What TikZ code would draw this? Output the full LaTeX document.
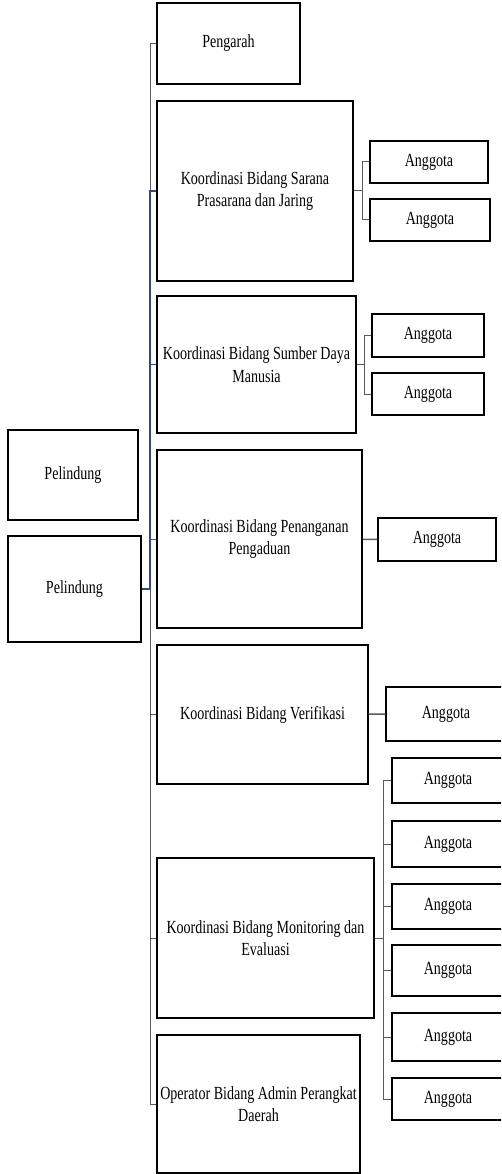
\documentclass[tikz,border=0pt]{standalone}
\usepackage{fontspec}
\setmainfont[FakeStretch=0.76]{Liberation Serif}
\definecolor{linkgray}{HTML}{5A5A5A}
\definecolor{linkblue}{HTML}{2F4A8C}
\begin{document}
\begin{tikzpicture}[x=1pt,y=-1pt,
		box/.style={draw,line width=1.3pt,align=center,inner sep=0pt,
			font=\fontsize{18.5}{22.5}\selectfont},
		link/.style={draw=linkgray,line width=1pt},
		bluelink/.style={draw=linkblue,line width=1.2pt}]
		\useasboundingbox(0,0)rectangle(501,1174);
		\clip(0,0)rectangle(501,1174);
		\node[box,minimum width=143,minimum height=81](pengarah)at(228.5,43.5){Pengarah};
		\node[box,minimum width=196,minimum height=180](sarana)at(255,191){Koordinasi Bidang Sarana\\Prasarana dan Jaring};
		\node[box,minimum width=199,minimum height=137](sdm)at(256.5,364.5){Koordinasi Bidang Sumber Daya\\Manusia};
		\node[box,minimum width=205,minimum height=178](aduan)at(259.5,539){Koordinasi Bidang Penanganan\\Pengaduan};
		\node[box,minimum width=211,minimum height=139](verif)at(262.5,714.5){Koordinasi Bidang Verifikasi};
		\node[box,minimum width=217,minimum height=160](monev)at(265.5,938){Koordinasi Bidang Monitoring dan\\Evaluasi};
		\node[box,minimum width=203,minimum height=138](operator)at(258.5,1104){Operator Bidang Admin Perangkat\\Daerah};
		\node[box,minimum width=130,minimum height=90](pel1)at(73,475){Pelindung};
		\node[box,minimum width=133,minimum height=106](pel2)at(74.5,589){Pelindung};
		\node[box,minimum width=118,minimum height=42](sa1)at(429,162){Anggota};
		\node[box,minimum width=120,minimum height=42](sa2)at(430,220){Anggota};
		\node[box,minimum width=112,minimum height=43](sd1)at(428,335.5){Anggota};
		\node[box,minimum width=112,minimum height=42](sd2)at(428,394){Anggota};
		\node[box,minimum width=118,minimum height=43](ad1)at(437,539.5){Anggota};
		\node[box,minimum width=120,minimum height=54](ve1)at(446,714){Anggota};
		\node[box,minimum width=112,minimum height=45](mo1)at(448,780.5){Anggota};
		\node[box,minimum width=112,minimum height=46](mo2)at(448,844){Anggota};
		\node[box,minimum width=112,minimum height=45](mo3)at(448,906.5){Anggota};
		\node[box,minimum width=112,minimum height=51](mo4)at(448,970.5){Anggota};
		\node[box,minimum width=112,minimum height=48](mo5)at(448,1037){Anggota};
		\node[box,minimum width=112,minimum height=42](mo6)at(448,1099){Anggota};
		\coordinate(trunk)at(150,0);
		\draw[link](pengarah.west)--(pengarah.west-|trunk)--(sarana.west-|trunk);
		\draw[bluelink](sarana.west)--(sarana.west-|trunk)--(pel2.east-|trunk)--(pel2.east)
			(sdm.west)--(sdm.west-|trunk);
		\draw[link](pel2.east-|trunk)--(operator.west-|trunk)--(operator.west)
			(aduan.west)--(aduan.west-|trunk)
			(verif.west)--(verif.west-|trunk)
			(monev.west)--(monev.west-|trunk);
		\draw[link](sarana.east)--++(9,0)coordinate(fsa)
			(sa1.west)-|(fsa)|-(sa2.west);
		\draw[link](sdm.east)--++(8,0)coordinate(fsd)
			(sd1.west)-|(fsd)|-(sd2.west);
		\draw[link,line width=1.5pt](aduan)--(ad1)
			(verif)--(ve1);
		\draw[link](monev.east)--++(9,0)coordinate(fmo)
			(mo1.west)-|(fmo)|-(mo6.west);
		\foreach \m in {mo2,mo3,mo4,mo5}
			\draw[link](\m.west)--(\m.west-|fmo);
	\end{tikzpicture}
\end{document}
